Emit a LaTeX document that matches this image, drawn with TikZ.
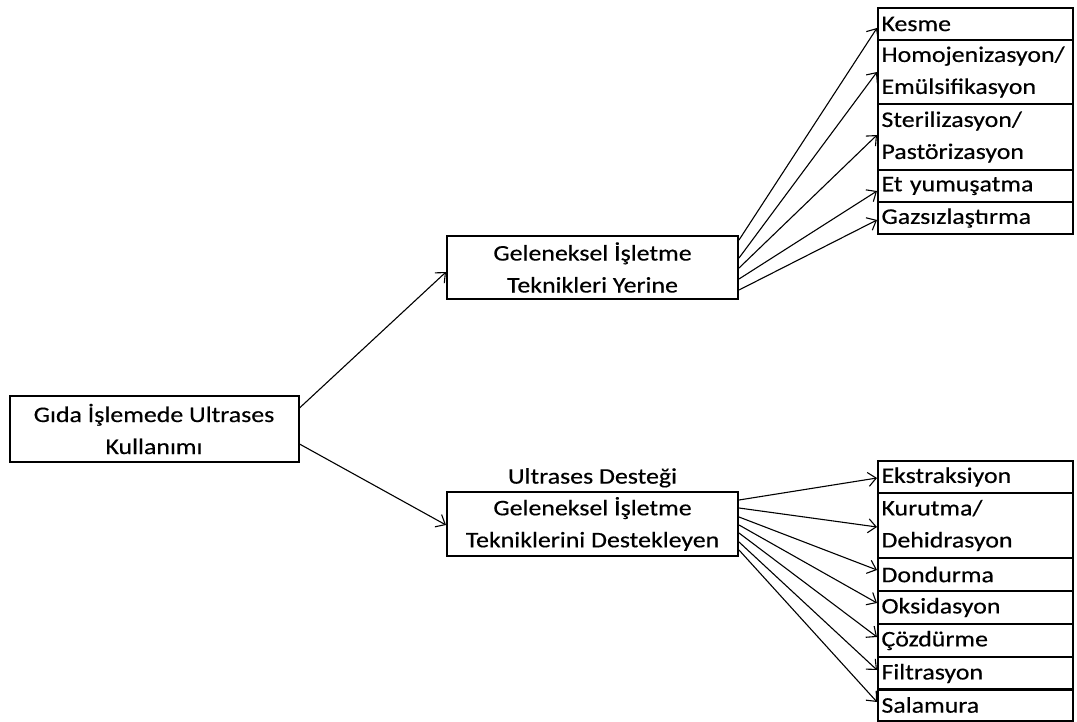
\documentclass[tikz,border=0pt]{standalone}
\usepackage{fontspec}
\setmainfont{Carlito}[FakeStretch=1.16, FakeBold=0.4]
\usetikzlibrary{positioning, arrows.meta}

\tikzset{
  kutu/.style={draw, line width=2pt, align=center, inner sep=2pt,
    minimum width=290pt, font=\fontsize{22.3}{32}\selectfont},
  madde/.style={draw, line width=2pt, align=left, text width=188pt,
    inner sep=3pt, minimum width=195pt, font=\fontsize{22.3}{32}\selectfont},
  ok/.style={line width=1.1pt, -{Straight Barb[length=8pt,width=14pt]}}
}

\begin{document}
\begin{tikzpicture}[x=1pt, y=-1pt]
\useasboundingbox (0,0) rectangle (1077,722);

% ana kutu ve iki dal
\node[kutu, minimum width=289pt, minimum height=66pt] (G) at (154,429) {G\i da \.I\c{s}lemede Ultrases\\Kullan\i m\i};
\node[kutu, minimum width=291pt, minimum height=63pt] (Y) at (592.5,267.5) {Geleneksel \.I\c{s}letme\\Teknikleri Yerine};
\node[kutu, minimum width=291pt, minimum height=64pt] (D) at (592.5,524) {Geleneksel \.I\c{s}letme\\Tekniklerini Destekleyen};
\node[font=\fontsize{22.3}{24}\selectfont, above=0pt of D] (U) {Ultrases Deste\u{g}i};

% ust sutun
\node[madde, minimum height=32pt] (k1) at (975.5,24) {Kesme};
\node[madde, minimum height=64pt] (k2) at (975.5,72) {Homojenizasyon/\\Em\"ulsifikasyon};
\node[madde, minimum height=66pt] (k3) at (975.5,137) {Sterilizasyon/\\Past\"orizasyon};
\node[madde, minimum height=32pt] (k4) at (975.5,186) {Et yumu\c{s}atma};
\node[madde, minimum height=32pt] (k5) at (975.5,218) {Gazs\i zla\c{s}t\i rma};

% alt sutun
\node[madde, minimum height=32pt] (a1) at (975.5,477) {Ekstraksiyon};
\node[madde, minimum height=65pt] (a2) at (975.5,525.5) {Kurutma/\\Dehidrasyon};
\node[madde, minimum height=33pt] (a3) at (975.5,574.5) {Dondurma};
\node[madde, minimum height=33pt] (a4) at (975.5,607.5) {Oksidasyon};
\node[madde, minimum height=33pt] (a5) at (975.5,640.5) {\c{C}\"ozd\"urme};
\node[madde, minimum height=33pt] (a6) at (975.5,673.5) {Filtrasyon};
\node[madde, minimum height=32pt] (a7) at (975.5,705) {Salamura};

\draw[ok] ([yshift=21pt]G.east) -- ([yshift=-4.5pt]Y.west);
\draw[ok] ([yshift=-15pt]G.east) -- ([yshift=-1pt]D.west);

\draw[ok] ([yshift=27.5pt]Y.east) -- ([yshift=-4pt]k1.west);
\draw[ok] ([yshift=9.5pt]Y.east) -- (k2.west);
\draw[ok] ([yshift=-0.5pt]Y.east) -- ([yshift=2pt]k3.west);
\draw[ok] ([yshift=-11.5pt]Y.east) -- ([yshift=-5pt]k4.west);
\draw[ok] ([yshift=-22.5pt]Y.east) -- ([yshift=-2pt]k5.west);

\draw[ok] ([yshift=24pt]D.east) -- ([yshift=-1pt]a1.west);
\draw[ok] ([yshift=16pt]D.east) -- ([yshift=-1.5pt]a2.west);
\draw[ok] ([yshift=7pt]D.east) -- ([yshift=4.5pt]a3.west);
\draw[ok] ([yshift=-1pt]D.east) -- ([yshift=4.5pt]a4.west);
\draw[ok] ([yshift=-9pt]D.east) -- ([yshift=3.5pt]a5.west);
\draw[ok] ([yshift=-18pt]D.east) -- ([yshift=3.5pt]a6.west);
\draw[ok] ([yshift=-26pt]D.east) -- ([yshift=3pt]a7.west);

\end{tikzpicture}
\end{document}
